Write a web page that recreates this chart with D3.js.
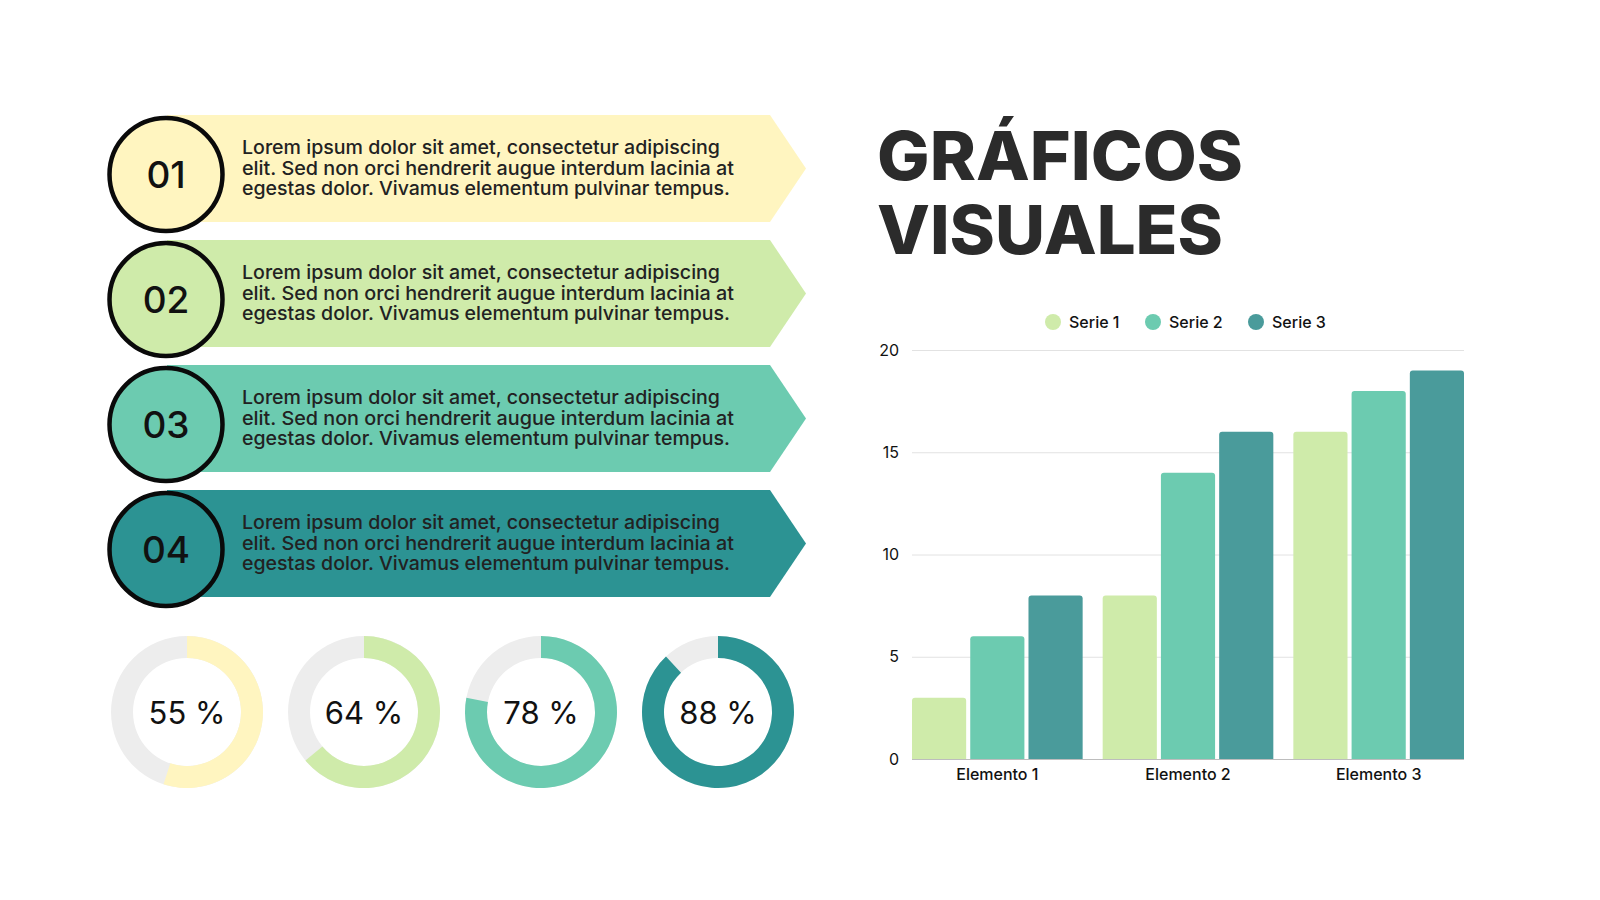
<!DOCTYPE html>
<html>
<head>
<meta charset="utf-8">
<script src="https://cdn.jsdelivr.net/npm/d3@7"></script>
<style>
  body { margin: 0; background: #fff; }
  svg { display: block; }
  text { font-family: Inter, "Open Sans", sans-serif; }
</style>
</head>
<body>
<div id="chart"></div>
<script>
// data
var itemNumbers = ["01", "02", "03", "04"];
var itemColors = ["#fff5c0", "#cfebaa", "#6ccbb0", "#2c9393"];
var loremLines = [
  "Lorem ipsum dolor sit amet, consectetur adipiscing",
  "elit. Sed non orci hendrerit augue interdum lacinia at",
  "egestas dolor. Vivamus elementum pulvinar tempus."
];
var percents = [55, 64, 78, 88];
var percentColors = ["#fff5c0", "#cfebaa", "#6ccbb0", "#2c9393"];

var categories = ["Elemento 1", "Elemento 2", "Elemento 3"];
var seriesNames = ["Serie 1", "Serie 2", "Serie 3"];
var serie1 = [3, 8, 16];
var serie2 = [6, 14, 18];
var serie3 = [8, 16, 19];
var seriesColors = ["#cfebaa", "#6ccbb0", "#4a9b9b"];
var yTicks = [0, 5, 10, 15, 20];

var svgWidth = 1600;
var svgHeight = 900;

var svg = d3.select("#chart").append("svg")
  .attr("width", svgWidth).attr("height", svgHeight);

// ---- title
var titleLines = ["GRÁFICOS", "VISUALES"];
var titleWidths = [366, 346];
svg.selectAll(".title").data(titleLines).enter().append("text")
  .attr("class", "title")
  .attr("x", 877)
  .attr("y", (d, i) => 180 + i * 74)
  .attr("font-size", 67)
  .attr("font-weight", 800)
  .attr("fill", "#2b2b2b")
  .attr("textLength", (d, i) => titleWidths[i])
  .attr("lengthAdjust", "spacingAndGlyphs")
  .text(d => d);

// ---- numbered banners
var rowY = d3.scaleLinear().domain([0, 1]).range([115, 240]);
var bannerH = 107;
var lineWidths = [478, 492, 488];

var rows = svg.selectAll(".row").data(itemNumbers).enter().append("g")
  .attr("class", "row")
  .attr("transform", (d, i) => `translate(0,${rowY(i)})`);

rows.append("path")
  .attr("d", `M167,0 L770,0 L806,${bannerH / 2} L770,${bannerH} L167,${bannerH} Z`)
  .attr("fill", (d, i) => itemColors[i]);

rows.append("circle")
  .attr("cx", 166)
  .attr("cy", bannerH / 2 + 6)
  .attr("r", 56.5)
  .attr("fill", (d, i) => itemColors[i])
  .attr("stroke", "#0a0a0a")
  .attr("stroke-width", 4.5);

rows.append("text")
  .attr("x", 166)
  .attr("y", bannerH / 2 + 19)
  .attr("text-anchor", "middle")
  .attr("font-size", 37)
  .attr("font-weight", 500)
  .attr("fill", "#111")
  .text(d => d);

rows.selectAll(".lorem").data(loremLines).enter().append("text")
  .attr("class", "lorem")
  .attr("x", 242)
  .attr("y", (d, i) => 39 + i * 20.5)
  .attr("font-size", 19)
  .attr("font-weight", 500)
  .attr("fill", "#222")
  .attr("textLength", (d, i) => lineWidths[i])
  .attr("lengthAdjust", "spacingAndGlyphs")
  .text(d => d);

// ---- donuts
var donutX = d3.scaleLinear().domain([0, 1]).range([187, 364]);
var arc = d3.arc().innerRadius(54).outerRadius(76);
var tau = 2 * Math.PI;

var donuts = svg.selectAll(".donut").data(percents).enter().append("g")
  .attr("class", "donut")
  .attr("transform", (d, i) => `translate(${donutX(i)},712)`);

donuts.append("path")
  .attr("d", arc({startAngle: 0, endAngle: tau}))
  .attr("fill", "#ededed");

donuts.append("path")
  .attr("d", d => arc({startAngle: 0, endAngle: tau * d / 100}))
  .attr("fill", (d, i) => percentColors[i]);

donuts.append("text")
  .attr("y", 12)
  .attr("text-anchor", "middle")
  .attr("font-size", 31)
  .attr("font-weight", 400)
  .attr("fill", "#111")
  .text(d => d + " %");

// ---- bar chart
var x0 = d3.scaleBand().domain(categories).range([912, 1464]).paddingInner(0.105);
var x1 = d3.scaleBand().domain(seriesNames).range([0, x0.bandwidth()]).paddingInner(0.07);
var y = d3.scaleLinear().domain([0, 20]).range([759, 350]);

var yAxis = svg.append("g")
  .attr("transform", "translate(912,0)")
  .call(d3.axisLeft(y).tickValues(yTicks).tickSize(-552).tickPadding(13));
yAxis.select(".domain").remove();
yAxis.selectAll(".tick line").attr("stroke", (d) => d === 0 ? "#bdbdbd" : "#e2e2e2");
yAxis.selectAll(".tick text")
  .attr("font-family", "Inter, sans-serif")
  .attr("font-size", 16).attr("fill", "#111");

var allSeries = [serie1, serie2, serie3];
var groups = svg.selectAll(".group").data(categories).enter().append("g")
  .attr("class", "group")
  .attr("transform", d => `translate(${x0(d)},0)`);

groups.selectAll("path").data((d, ci) => seriesNames.map((s, si) => ({s: s, v: allSeries[si][ci], c: seriesColors[si]})))
  .enter().append("path")
  .attr("d", d => {
    var bx = x1(d.s), bw = x1.bandwidth(), top = y(d.v), bot = y(0), r = 3;
    return `M${bx},${bot} L${bx},${top + r} Q${bx},${top} ${bx + r},${top} L${bx + bw - r},${top} Q${bx + bw},${top} ${bx + bw},${top + r} L${bx + bw},${bot} Z`;
  })
  .attr("fill", d => d.c);

var xAxis = svg.append("g")
  .attr("transform", "translate(0,759)")
  .call(d3.axisBottom(x0).tickSize(0).tickPadding(10));
xAxis.select(".domain").remove();
xAxis.selectAll(".tick text")
  .attr("font-family", "Inter, sans-serif")
  .attr("font-size", 16).attr("font-weight", 500).attr("fill", "#111");

// legend
var legendX = [1053, 1153, 1256];
var legend = svg.selectAll(".legend").data(seriesNames).enter().append("g")
  .attr("class", "legend")
  .attr("transform", (d, i) => `translate(${legendX[i]},322)`);
legend.append("circle").attr("r", 8).attr("fill", (d, i) => seriesColors[i]);
legend.append("text")
  .attr("x", 16).attr("y", 6)
  .attr("font-size", 16).attr("font-weight", 500).attr("fill", "#111")
  .text(d => d);
</script>
</body>
</html>
